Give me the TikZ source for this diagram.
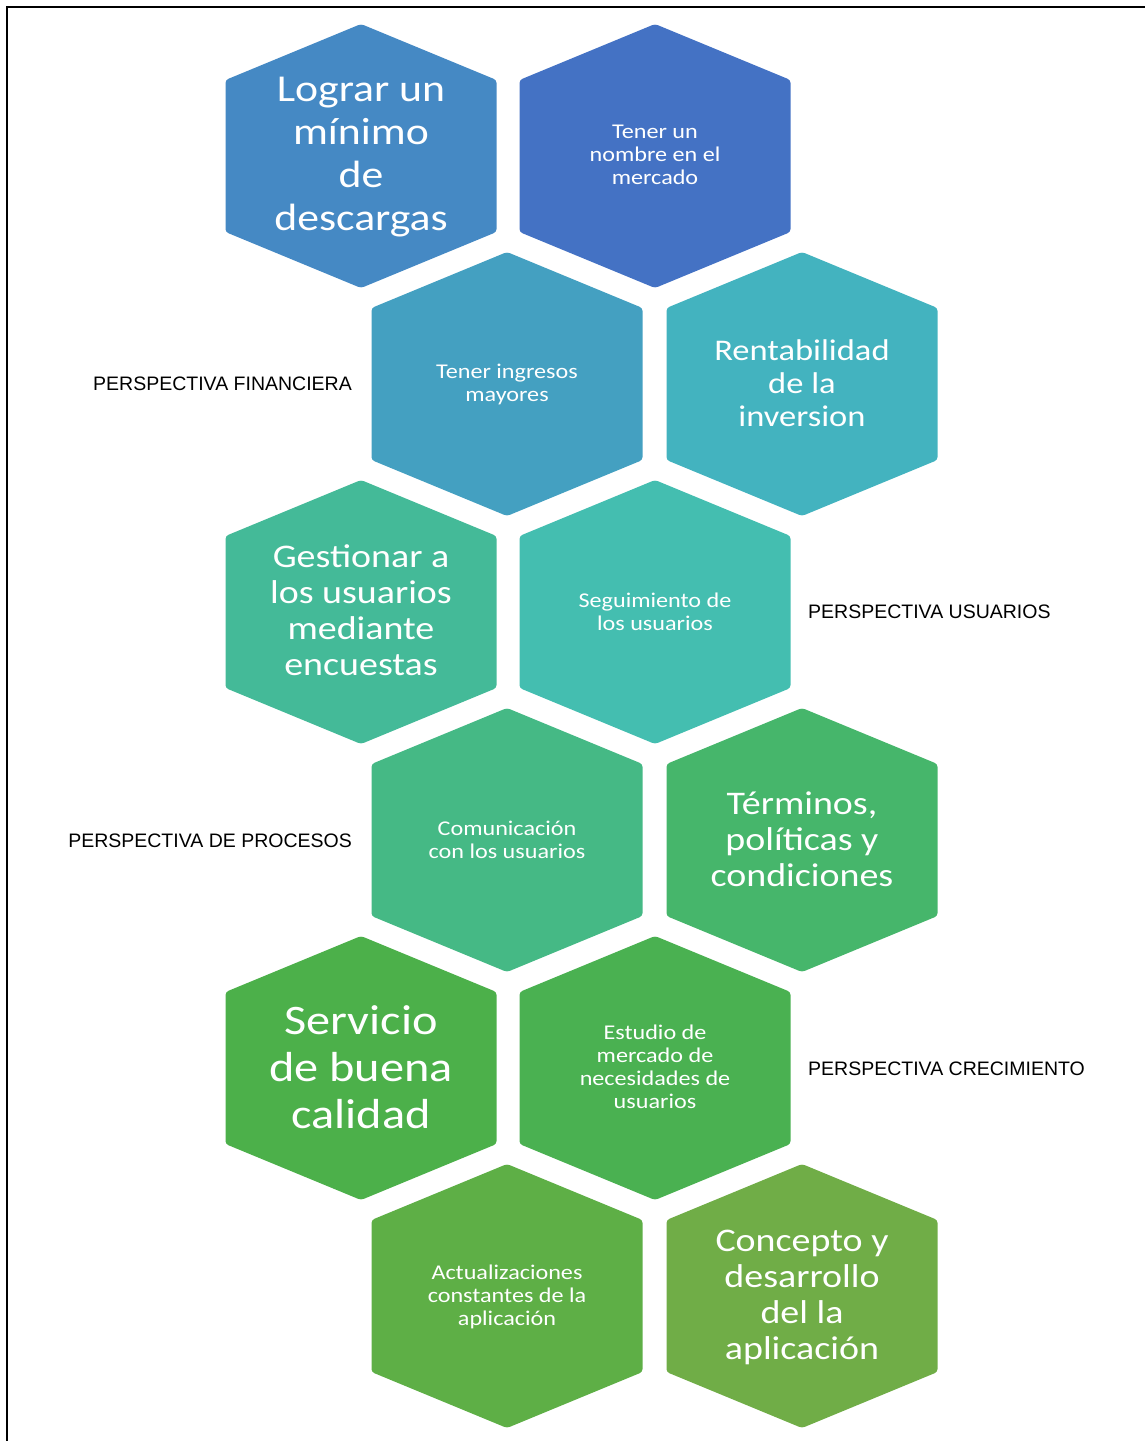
\documentclass[tikz,border=0pt]{standalone}
\usepackage{fontspec}
\usepackage{tikz}
\newfontfamily\hexfont[FakeStretch=1.15]{Carlito}
\newfontfamily\labfont{Liberation Sans}
\definecolor{hexA}{HTML}{4589C4}
\definecolor{hexB}{HTML}{4472C4}
\definecolor{hexC}{HTML}{44A0C1}
\definecolor{hexD}{HTML}{43B3BF}
\definecolor{hexE}{HTML}{44BA98}
\definecolor{hexF}{HTML}{44BEB0}
\definecolor{hexG}{HTML}{45B985}
\definecolor{hexH}{HTML}{46B66B}
\definecolor{hexI}{HTML}{4CB04A}
\definecolor{hexJ}{HTML}{4AB151}
\definecolor{hexK}{HTML}{5EAF46}
\definecolor{hexL}{HTML}{70AD47}

\begin{document}
\begin{tikzpicture}[x=1pt,y=-1pt]
     \tikzstyle{big}=[align=center,text=white,inner sep=0pt,font=\hexfont]
     \tikzstyle{small}=[big,font=\hexfont\fontsize{21}{23}\selectfont]
     \tikzstyle{persp}=[inner sep=0pt,font=\labfont\fontsize{19.5}{22}\selectfont]
     \useasboundingbox (0,0) rectangle (1145,1441);
     \draw[line width=1.8pt] (7,1445) -- (7,7) -- (1150,7);

     % panal de hexagonos
     \foreach \cx/\cy/\col in {361/156/hexA, 655/156/hexB,
        507/384/hexC, 802/384/hexD,
        361/612/hexE, 655/612/hexF,
        507/840/hexG, 802/840/hexH,
        361/1068/hexI, 655/1068/hexJ,
        507/1296/hexK, 802/1296/hexL}
        \fill[\col,rounded corners=3pt,shift={(\cx,\cy)}]
           (0,-132) -- (135.5,-76) -- (135.5,76) -- (0,132)
           -- (-135.5,76) -- (-135.5,-76) -- cycle;

     \node[big,font=\hexfont\fontsize{38}{43}\selectfont] (h1) at (361,157)
        {Lograr un\\m\'inimo\\de\\descargas};
     \node[small] (h2) at (655,155) {Tener un\\nombre en el\\mercado};
     \node[small] (h3) at (507,384) {Tener ingresos\\mayores};
     \node[big,font=\hexfont\fontsize{30}{33}\selectfont] (h4) at (802,383)
        {Rentabilidad\\de la\\inversion};
     \node[big,font=\hexfont\fontsize{33}{36}\selectfont] (h5) at (361,610)
        {Gestionar a\\los usuarios\\mediante\\encuestas};
     \node[small] (h6) at (655,612) {Seguimiento de\\los usuarios};
     \node[small] (h7) at (507,840) {Comunicaci\'on\\con los usuarios};
     \node[big,font=\hexfont\fontsize{33}{36}\selectfont] (h8) at (802,839)
        {T\'erminos,\\pol\'iticas y\\condiciones};
     \node[big,font=\hexfont\fontsize{42}{47}\selectfont] (h9) at (361,1067)
        {Servicio\\de buena\\calidad};
     \node[small] (h10) at (655,1067)
        {Estudio de\\mercado de\\necesidades de\\usuarios};
     \node[small] (h11) at (507,1297)
        {Actualizaciones\\constantes de la\\aplicaci\'on};
     \node[big,font=\hexfont\fontsize{33}{36}\selectfont] (h12) at (802,1297)
        {Concepto y\\desarrollo\\del la\\aplicaci\'on};

     % perspectivas
     \node[persp,anchor=east] (pfin) at (352,384) {PERSPECTIVA FINANCIERA};
     \node[persp,anchor=west] (pusu) at (808,612) {PERSPECTIVA USUARIOS};
     \node[persp,anchor=east] (ppro) at (352,841) {PERSPECTIVA DE PROCESOS};
     \node[persp,anchor=west] (pcre) at (808,1069) {PERSPECTIVA CRECIMIENTO};
\end{tikzpicture}
\end{document}
